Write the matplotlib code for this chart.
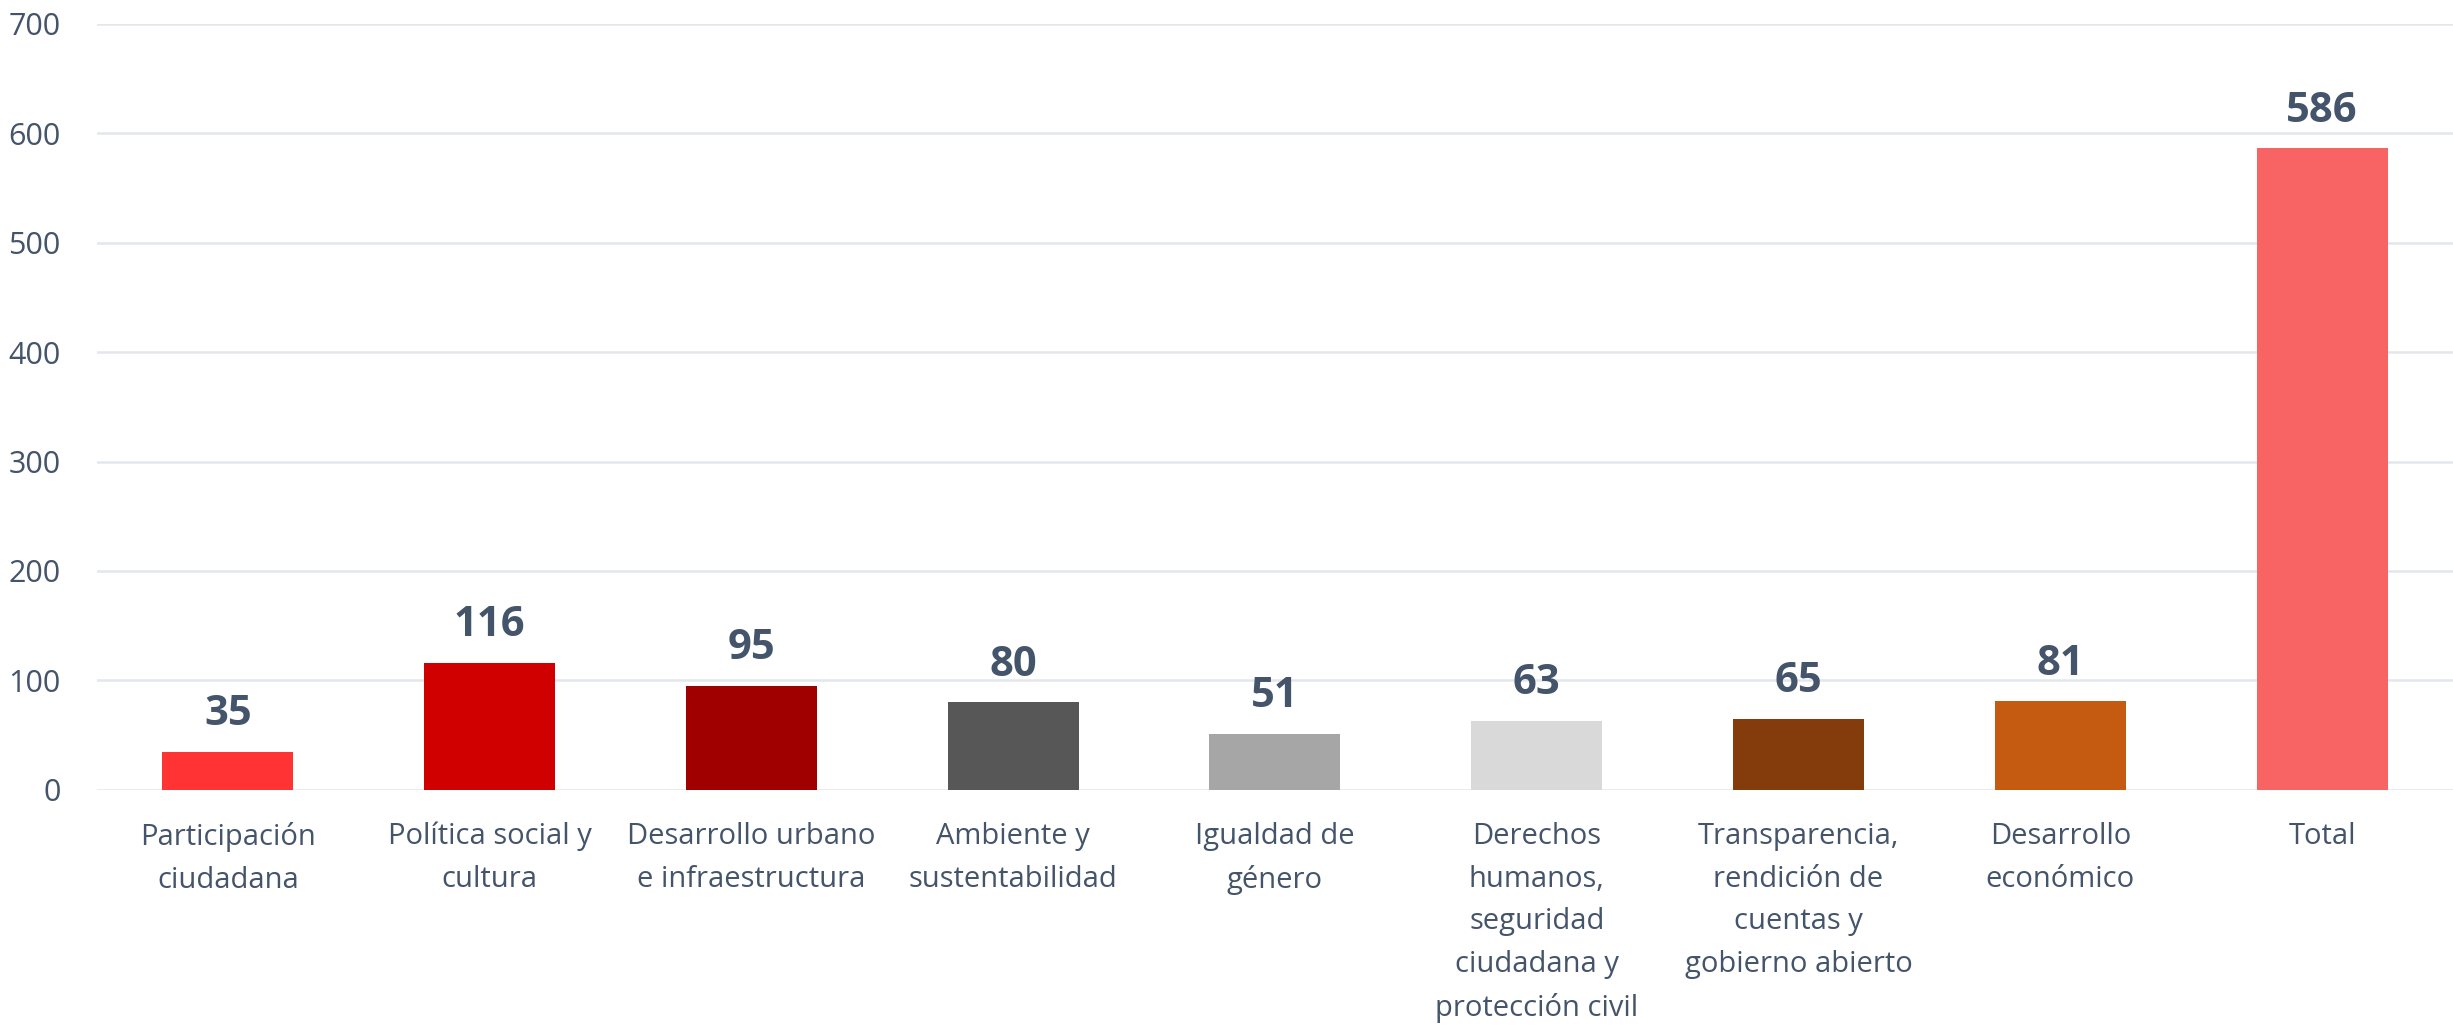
import matplotlib.pyplot as plt
import numpy as np

plt.rcParams['font.family'] = ['Open Sans', 'DejaVu Sans']

categorias = ['Participación\nciudadana', 'Política social y\ncultura',
              'Desarrollo urbano\ne infraestructura', 'Ambiente y\nsustentabilidad',
              'Igualdad de\ngénero',
              'Derechos\nhumanos,\nseguridad\nciudadana y\nprotección civil',
              'Transparencia,\nrendición de\ncuentas y\ngobierno abierto',
              'Desarrollo\neconómico', 'Total']
valores = [35, 116, 95, 80, 51, 63, 65, 81, 586]
colores = ['#FF3333', '#D00000', '#A00000', '#575757', '#A6A6A6',
           '#D9D9D9', '#843C0C', '#C55A11', '#F86464']
yticks = [0, 100, 200, 300, 400, 500, 600, 700]

texto = '#44546A'
rejilla = '#E3E7EC'

fig = plt.figure(figsize=(24.53, 10.25), dpi=100)
ax = fig.add_axes([0.0395, 0.2293, 0.9605, 0.7477])

pos = np.arange(len(valores))
ax.bar(pos, valores, width=0.5, color=colores, zorder=3)
for x, v in zip(pos, valores):
    ax.annotate(str(v), (x, v), xytext=(0, 12), textcoords='offset points',
                ha='center', va='bottom', fontsize=30, fontweight='bold',
                color=texto)

ax.set_xlim(-0.5, len(valores) - 0.5)
ax.set_ylim(0, 700)
ax.set_yticks(yticks)
ax.set_yticklabels([str(t) for t in yticks], fontsize=22, color=texto)
ax.set_xticks(pos)
ax.set_xticklabels(categorias, fontsize=21, color=texto, linespacing=1.62)
ax.tick_params(axis='both', length=0)
ax.tick_params(axis='x', pad=23)
ax.tick_params(axis='y', pad=26)
ax.grid(axis='y', color=rejilla, linewidth=1.8, zorder=0)
ax.set_axisbelow(True)
for s in ax.spines.values():
    s.set_visible(False)

fig.savefig('out.png', dpi=100)
